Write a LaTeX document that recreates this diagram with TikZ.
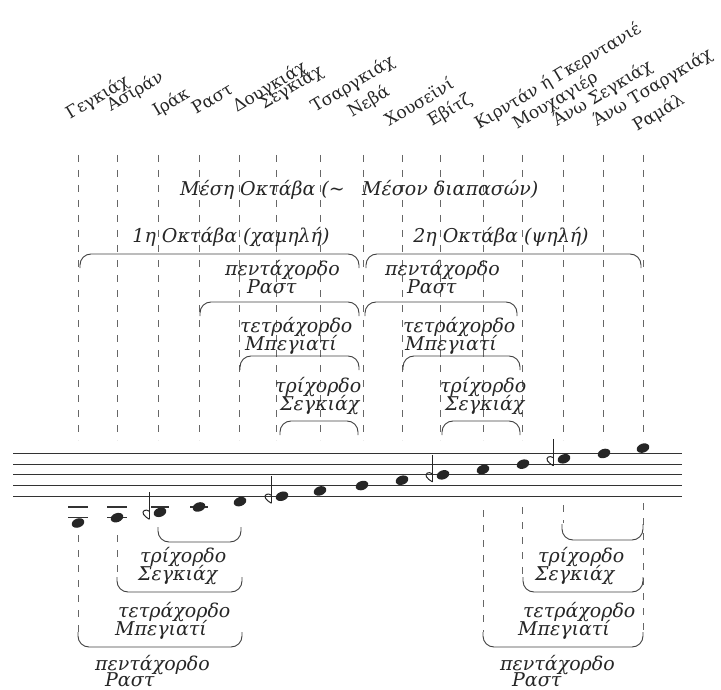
\documentclass[tikz,border=0pt]{standalone}
\usepackage{fontspec}
\setmainfont{DejaVu Serif}
\usetikzlibrary{shapes.geometric}
\begin{document}
\begin{tikzpicture}[x=1pt,y=-1pt,
  colline/.style={draw=black!60, line width=0.8pt, dash pattern=on 7pt off 8pt},
  brk/.style={draw=black!75, line width=0.9pt, rounded corners=11pt},
  stf/.style={draw=black!80, line width=1.1pt},
  ledger/.style={draw=black!80, line width=1.1pt},
  lab/.style={font=\fontsize{17}{17}\selectfont, text=black!85, inner sep=0pt, rotate=31, anchor=base west},
  itx/.style={font=\fontsize{19}{19}\selectfont\itshape, text=black!85, inner sep=0pt, anchor=base west},
  notehead/.style={ellipse, fill=black!85, inner sep=0pt, minimum width=13pt, minimum height=9pt, rotate=20},
  flatsign/.style={draw=black!85, line width=1pt},
]
\useasboundingbox (0,0) rectangle (721,690);

% top labels
\node[lab] (l1) at (70,120) {Γεγκιάχ};
\node[lab] (l2) at (111,112) {Ασιράν};
\node[lab] (l3) at (157,117) {Ιράκ};
\node[lab] (l4) at (196,115) {Ραστ};
\node[lab] (l5) at (237,113) {Δουγκιάχ};
\node[lab] (l6) at (264,110) {Σεγκιάχ};
\node[lab] (l7) at (315,113) {Τσαργκιάχ};
\node[lab] (l8) at (352,118) {Νεβά};
\node[lab] (l9) at (389,127) {Χουσεϊνί};
\node[lab] (l10) at (432,127) {Εβίτζ};
\node[lab] (l11) at (479,130) {Κιρντάν ή Γκερντανιέ};
\node[lab] (l12) at (517,130) {Μουχαγιέρ};
\node[lab] (l13) at (557,127) {Άνω Σεγκιάχ};
\node[lab] (l14) at (597,127) {Άνω Τσαργκιάχ};
\node[lab] (l15) at (637,132) {Ραμάλ};

% dashed columns (top)
\foreach \x in {78,117,158,199,239,276,320,363,402,440,483,522,563,603,643}
  \draw[colline] (\x,155) -- (\x,440);
% dashed columns (bottom)
\draw[colline] (78,535) -- (78,632);
\draw[colline] (117,535) -- (117,577);
\draw[colline] (483,510) -- (483,632);
\draw[colline] (522,507) -- (522,577);
\draw[colline] (563,505) -- (563,523);
\draw[colline] (643,503) -- (643,632);

% upper texts
\node[itx] (mesa) at (180,196) {Μέση Οκτάβα (\textasciitilde};
\node[itx] (mesb) at (362,196) {Μέσον διαπασών)};
\node[itx, anchor=base] (okt1) at (231,243) {1η Οκτάβα (χαμηλή)};
\node[itx, anchor=base] (okt2) at (501,243) {2η Οκτάβα (ψηλή)};
\node[itx] (p1a) at (225,276) {πεντάχορδο};
\node[itx] (p1b) at (247,294) {Ραστ};
\node[itx] (p2a) at (385,276) {πεντάχορδο};
\node[itx] (p2b) at (407,294) {Ραστ};
\node[itx] (t1a) at (240,332) {τετράχορδο};
\node[itx] (t1b) at (245,350) {Μπεγιατί};
\node[itx] (t2a) at (403,332) {τετράχορδο};
\node[itx] (t2b) at (405,350) {Μπεγιατί};
\node[itx] (r1a) at (275,392) {τρίχορδο};
\node[itx] (r1b) at (280,410) {Σεγκιάχ};
\node[itx] (r2a) at (440,392) {τρίχορδο};
\node[itx] (r2b) at (445,410) {Σεγκιάχ};

% upper brackets
\draw[brk] (80,268) -- (80,254) -- (359,254) -- (359,268);
\draw[brk] (366,268) -- (366,254) -- (641,254) -- (641,268);
\draw[brk] (200,316) -- (200,302) -- (359,302) -- (359,316);
\draw[brk] (365,316) -- (365,302) -- (517,302) -- (517,316);
\draw[brk] (240,370) -- (240,356) -- (359,356) -- (359,370);
\draw[brk] (403,370) -- (403,356) -- (520,356) -- (520,370);
\draw[brk] (280,435) -- (280,421) -- (358,421) -- (358,435);
\draw[brk] (442,435) -- (442,421) -- (520,421) -- (520,435);

% staff
\foreach \k in {0,...,4}
  \draw[stf] (13,{453.45+10.7*\k}) -- (682,{453.45+10.7*\k});

% ledger lines
\draw[ledger] (68,506.95) -- (88,506.95);
\draw[ledger] (68,517.65) -- (88,517.65);
\draw[ledger] (107,506.95) -- (127,506.95);
\draw[ledger] (107,517.65) -- (127,517.65);
\draw[ledger] (151,506.95) -- (169,506.95);
\draw[ledger] (190,506.95) -- (208,506.95);

% notes
\foreach \i/\x in {0/78,1/117,2/160,3/199,4/240,5/282,6/320,7/362,8/402,9/443,10/483,11/523,12/564,13/604,14/643}
  \node[notehead] (n\i) at (\x,{523-5.35*\i}) {};

% flats (reversed)
\foreach \x/\y in {160/512.3,282/496.25,443/474.85,564/458.8}{
  \draw[flatsign] ({\x-10.5},{\y-20}) -- ({\x-10.5},{\y+7});
  \draw[flatsign] ({\x-10.5},{\y-1}) .. controls ({\x-14.5},{\y-4}) and ({\x-18.5},{\y-1}) .. ({\x-16.5},{\y+2}) .. controls ({\x-14.5},{\y+4.5}) .. ({\x-10.5},{\y+7});
}

% lower brackets
\draw[brk] (158,527) -- (158,542) -- (241,542) -- (241,527);
\draw[brk] (117,577) -- (117,592) -- (242,592) -- (242,577);
\draw[brk] (78,632) -- (78,647) -- (242,647) -- (242,632);
\draw[brk] (562,524) -- (562,540) -- (643,540) -- (643,524);
\draw[brk] (523,577) -- (523,592) -- (643,592) -- (643,577);
\draw[brk] (483,632) -- (483,647) -- (643,647) -- (643,632);

% lower texts
\node[itx] (br1a) at (140,562) {τρίχορδο};
\node[itx] (br1b) at (138,580) {Σεγκιάχ};
\node[itx] (bt1a) at (118,617) {τετράχορδο};
\node[itx] (bt1b) at (115,635) {Μπεγιατί};
\node[itx] (bp1a) at (95,670) {πεντάχορδο};
\node[itx] (bp1b) at (105,686) {Ραστ};
\node[itx] (br2a) at (538,562) {τρίχορδο};
\node[itx] (br2b) at (535,580) {Σεγκιάχ};
\node[itx] (bt2a) at (523,617) {τετράχορδο};
\node[itx] (bt2b) at (518,635) {Μπεγιατί};
\node[itx] (bp2a) at (500,670) {πεντάχορδο};
\node[itx] (bp2b) at (512,686) {Ραστ};
\end{tikzpicture}
\end{document}
